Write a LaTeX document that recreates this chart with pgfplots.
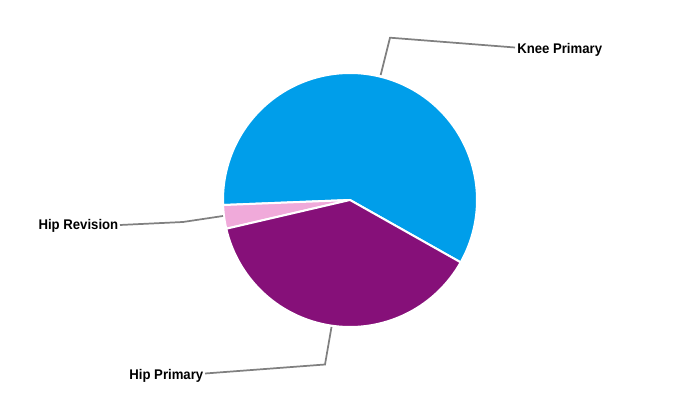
\documentclass[border=0pt]{standalone}
\usepackage{pgfplots}
\pgfplotsset{compat=1.18}
\usepackage{fontspec}
\setmainfont{Liberation Sans}
\definecolor{knee}{RGB}{0,158,234}
\definecolor{hipp}{RGB}{134,16,121}
\definecolor{hipr}{RGB}{240,170,218}
\definecolor{lead}{RGB}{128,128,128}
\begin{document}
\begin{tikzpicture}
% slice values (percent)
\def\vk{58.8}\def\vp{38.2}\def\vr{3.0}
\pgfmathsetmacro\start{-29.4}
\pgfmathsetmacro\ak{\start+3.6*\vk}
\pgfmathsetmacro\ar{\ak+3.6*\vr}
\pgfmathsetmacro\ap{\ar+3.6*\vp}
\begin{axis}[width=525pt,height=300pt,scale only axis,xmin=0,xmax=700,ymin=0,ymax=400,hide axis,clip=false]
\path (axis cs:0,0) rectangle (axis cs:700,400);
\addplot[fill=knee,draw=white,line width=1.5pt,line join=round,domain=\start:\ak,samples=150,variable=\t] ({350+127*cos(\t)},{200+127*sin(\t)}) -- (axis cs:350,200) -- cycle;
\addplot[fill=hipr,draw=white,line width=1.5pt,line join=round,domain=\ak:\ar,samples=20,variable=\t] ({350+127*cos(\t)},{200+127*sin(\t)}) -- (axis cs:350,200) -- cycle;
\addplot[fill=hipp,draw=white,line width=1.5pt,line join=round,domain=\ar:\ap,samples=120,variable=\t] ({350+127*cos(\t)},{200+127*sin(\t)}) -- (axis cs:350,200) -- cycle;
% leader lines
\addplot[lead,line width=1.3pt] coordinates {(380.7,325) (390,362.3) (515,352.5)};
\addplot[lead,line width=1.3pt] coordinates {(120,175) (183,178) (223,184)};
\addplot[lead,line width=1.3pt] coordinates {(205,26.5) (325,35.5) (331.5,73)};
% labels
\node[anchor=west,inner sep=0pt,xscale=0.94,font=\bfseries\fontsize{10.5}{12}\selectfont] at (axis cs:517,350.5) {Knee Primary};
\node[anchor=east,inner sep=0pt,xscale=0.94,font=\bfseries\fontsize{10.5}{12}\selectfont] at (axis cs:118.5,174) {Hip Revision};
\node[anchor=east,inner sep=0pt,xscale=0.94,font=\bfseries\fontsize{10.5}{12}\selectfont] at (axis cs:203.5,24) {Hip Primary};
\end{axis}
\end{tikzpicture}
\end{document}
